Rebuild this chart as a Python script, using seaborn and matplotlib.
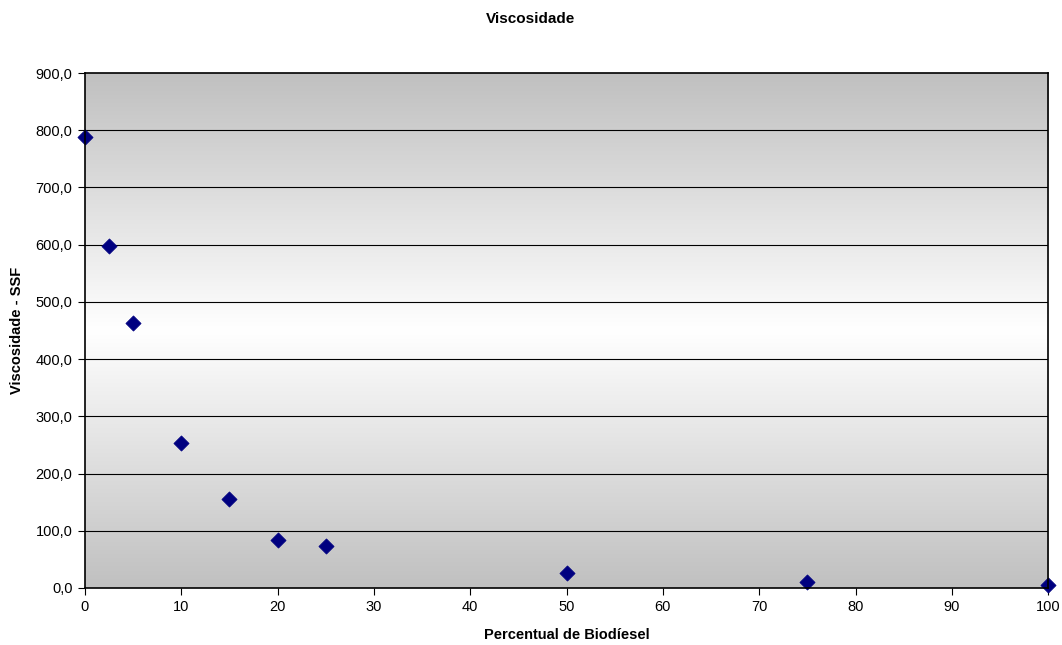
import numpy as np
import matplotlib
matplotlib.use("Agg")
import matplotlib.pyplot as plt
from matplotlib.colors import LinearSegmentedColormap
from matplotlib.ticker import FuncFormatter
import seaborn as sns
import pandas as pd

# Biodiesel blend percentage vs. viscosity (SSF)
percentual = [0, 2.5, 5, 10, 15, 20, 25, 50, 75, 100]
viscosidade = [788, 598, 463, 253, 155, 83, 73, 26, 10, 5]

x_ticks = [0, 10, 20, 30, 40, 50, 60, 70, 80, 90, 100]
y_ticks = [0, 100, 200, 300, 400, 500, 600, 700, 800, 900]

sns.set_theme(style="white")
plt.rcParams['font.family'] = ['Liberation Sans', 'DejaVu Sans']
plt.rcParams['text.color'] = 'black'
plt.rcParams['axes.labelcolor'] = 'black'

fig = plt.figure(figsize=(10.62, 6.45), dpi=100)
ax = fig.add_axes([0.080, 0.0884, 0.907, 0.7984])

# vertical gray-white-gray background gradient
cmap = LinearSegmentedColormap.from_list("bg", ["#c0c0c0", "#ffffff", "#c0c0c0"])
grad = np.linspace(0, 1, 256).reshape(-1, 1)
ax.imshow(grad, cmap=cmap, aspect="auto", extent=[0, 100, 0, 900],
          origin="lower", zorder=0)

for yv in y_ticks[1:-1]:
    ax.axhline(yv, color="black", lw=0.8, zorder=1)

df = pd.DataFrame({"Percentual": percentual, "Viscosidade": viscosidade})
sns.scatterplot(data=df, x="Percentual", y="Viscosidade", ax=ax, marker="D",
                s=60, color="#000080", edgecolor="#000080", linewidth=0.5,
                zorder=3, clip_on=False)

ax.set_xlim(0, 100)
ax.set_ylim(0, 900)
ax.set_xticks(x_ticks)
ax.set_yticks(y_ticks)
ax.yaxis.set_major_formatter(FuncFormatter(lambda v, p: f"{v:.1f}".replace(".", ",")))
ax.tick_params(axis="both", direction="out", length=5, width=0.8, color="black",
               labelsize=10.5, labelcolor="black", bottom=True, left=True, pad=4)

for sp in ax.spines.values():
    sp.set_color("black")
    sp.set_linewidth(1.2)
    sp.set_zorder(4)

ax.set_xlabel("Percentual de Biodíesel", fontsize=10.5, fontweight="bold",
              labelpad=10, color="black")
ax.set_ylabel("Viscosidade - SSF", fontsize=10.5, fontweight="bold",
              labelpad=8, color="black")
fig.suptitle("Viscosidade", fontsize=11, fontweight="bold", y=0.982, color="black")

fig.savefig("out.png", dpi=100, facecolor="white")
